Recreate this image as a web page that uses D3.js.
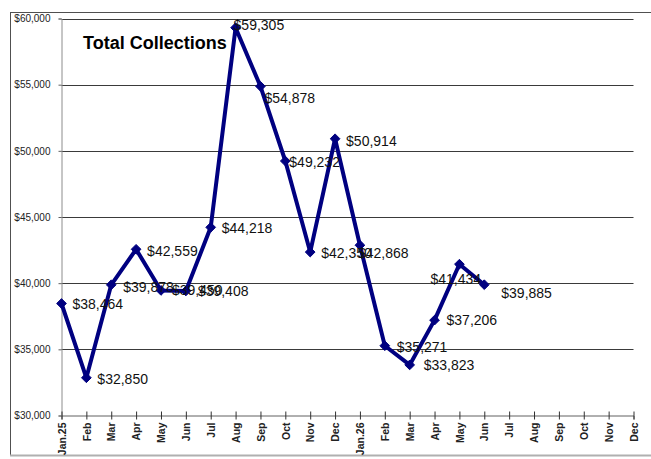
<!DOCTYPE html>
<html>
<head>
<meta charset="utf-8">
<script src="https://cdn.jsdelivr.net/npm/d3@7"></script>
<style>
  html, body { margin: 0; padding: 0; background: #fff; }
  svg { display: block; font-family: "Liberation Sans", Arial, sans-serif; }
</style>
</head>
<body>
<svg id="chart" width="651" height="459"></svg>
<script>
// ---- data ----
const title = "Total Collections";
const months = ["Jan.25","Feb","Mar","Apr","May","Jun","Jul","Aug","Sep","Oct","Nov","Dec",
                "Jan.26","Feb","Mar","Apr","May","Jun","Jul","Aug","Sep","Oct","Nov","Dec"];
const collections = [38464, 32850, 39878, 42559, 39450, 39408, 44218, 59305, 54878, 49232, 42350, 50914,
                     42868, 35271, 33823, 37206, 41434, 39885];
const yTicks = [30000, 35000, 40000, 45000, 50000, 55000, 60000];

// label placement tweaks (offsets from each point, in px)
const labelDx = [11, 11, 12, 11, 11, 12, 11, -2, 4, 4, 11, 11, -2, 12, 14, 12, -29, 17];
const labelDy = [6, 6, 7, 7, 5, 5, 6, 2, 17, 6, 6, 7, 13, 6, 5, 5, 20, 13];

// ---- layout ----
const svg = d3.select("#chart");
const plotL = 61.5, plotR = 633.5, plotT = 18.5, plotB = 415.5;

const x = d3.scalePoint().domain(d3.range(months.length)).range([plotL, plotR]);
const y = d3.scaleLinear().domain([30000, 60000]).range([plotB, plotT]);

// outer frame
svg.append("rect")
  .attr("x", 10.5).attr("y", 12.5).attr("width", 700).attr("height", 443)
  .attr("fill", "#fff").attr("stroke", "#505050").attr("stroke-width", 1);
svg.append("line")
  .attr("x1", 10).attr("x2", 651).attr("y1", 455.5).attr("y2", 455.5)
  .attr("stroke", "#b0b0b0").attr("stroke-width", 2);

// gridlines
svg.append("g").selectAll("line").data(yTicks.filter(d => d > 30000)).join("line")
  .attr("x1", plotL).attr("x2", plotR)
  .attr("y1", d => Math.round(y(d)) + 0.5).attr("y2", d => Math.round(y(d)) + 0.5)
  .attr("stroke", "#3a3a3a").attr("stroke-width", 1);

// y axis
const yAxis = d3.axisLeft(y).tickValues(yTicks).tickSize(3).tickPadding(8)
  .tickFormat(d => "$" + d3.format(",")(d));
const gy = svg.append("g").attr("transform", `translate(${plotL},0)`).call(yAxis);
gy.select(".domain").attr("stroke", "#8c8c8c");
gy.selectAll(".tick line").attr("stroke", "#606060");
gy.selectAll(".tick text").attr("font-size", 10).attr("fill", "#222")
  .attr("font-family", "'Liberation Sans', Arial, sans-serif");

// x axis
const xAxis = d3.axisBottom(x).tickSize(4).tickFormat(i => months[i]);
const gx = svg.append("g").attr("transform", `translate(0,${plotB})`).call(xAxis);
gx.select(".domain").attr("stroke", "#606060");
gx.selectAll(".tick line").attr("stroke", "#303030").attr("y1", -4).attr("y2", 4);
gx.selectAll(".tick text")
  .attr("font-size", 10.5).attr("font-weight", "bold").attr("fill", "#222")
  .attr("font-family", "'Liberation Sans', Arial, sans-serif")
  .attr("text-anchor", "end")
  .attr("transform", "rotate(-90)")
  .attr("x", -7).attr("y", 0).attr("dy", "0.35em");

// line
const line = d3.line().x((d, i) => x(i)).y(d => y(d));
svg.append("path").datum(collections)
  .attr("d", line).attr("fill", "none")
  .attr("stroke", "#000080").attr("stroke-width", 4).attr("stroke-linejoin", "round");

// markers
svg.append("g").selectAll("path").data(collections).join("path")
  .attr("d", d3.symbol(d3.symbolDiamond2, 60)())
  .attr("transform", (d, i) => `translate(${x(i)},${y(d)})`)
  .attr("fill", "#000080").attr("stroke", "#000080").attr("stroke-width", 1);

// data labels
svg.append("g").selectAll("text").data(collections).join("text")
  .attr("x", (d, i) => x(i) + labelDx[i])
  .attr("y", (d, i) => y(d) + labelDy[i])
  .attr("font-size", 14).attr("fill", "#111")
  .text(d => "$" + d3.format(",")(d));

// title
svg.append("text").attr("x", 83).attr("y", 48.5)
  .attr("font-size", 18).attr("font-weight", "bold").attr("fill", "#000")
  .text(title);
</script>
</body>
</html>
